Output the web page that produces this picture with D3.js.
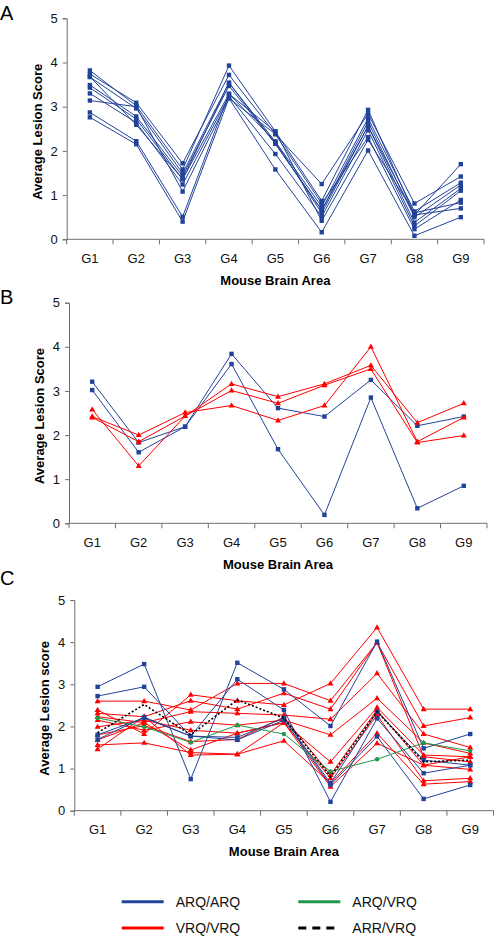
<!DOCTYPE html>
<html><head><meta charset="utf-8">
<script src="https://cdn.jsdelivr.net/npm/d3@7"></script>
<style>body{margin:0;background:#fff}svg{display:block;font-family:"Liberation Sans",Arial,sans-serif}</style>
</head><body><svg id="c" width="494" height="936"></svg>
<script>
const categories = ["G1","G2","G3","G4","G5","G6","G7","G8","G9"];
const yTicks = [0,1,2,3,4,5];

// Panel A: ARQ/ARQ
const seriesA_blue = [
  [3.82,3.02,1.58,3.93,2.44,0.87,2.93,0.55,1.70],
  [3.74,3.09,1.72,3.72,2.38,1.25,2.84,0.81,1.42],
  [3.67,2.96,1.49,3.54,2.21,0.74,2.74,0.63,1.28],
  [3.49,2.78,1.43,3.47,2.16,0.66,2.66,0.50,1.23],
  [3.43,2.72,1.36,3.29,2.21,0.59,2.56,0.38,1.15],
  [3.30,2.64,1.24,3.24,1.93,0.51,2.47,0.30,1.10],
  [3.14,3.00,1.08,3.19,2.38,0.81,2.31,0.23,0.89],
  [2.87,2.22,0.51,3.29,2.44,0.42,2.25,0.60,0.83],
  [2.76,2.15,0.40,3.19,1.58,0.16,2.01,0.08,0.50],
  [3.68,2.59,1.36,3.54,2.16,0.66,2.56,0.55,0.70]
];
// Panel B
const seriesB_blue = [
  [3.21,1.83,2.19,3.84,2.61,2.42,3.25,2.21,2.42],
  [3.02,1.61,2.19,3.61,1.68,0.19,2.85,0.34,0.85]
];
const seriesB_red = [
  [2.42,2.00,2.51,2.67,2.33,2.67,4.00,1.85,2.40],
  [2.58,1.30,2.43,3.01,2.72,3.13,3.50,1.83,1.99],
  [2.40,1.85,2.43,3.16,2.87,3.16,3.58,2.28,2.72]
];
// Panel C
const seriesC_blue = [
  [2.94,3.48,0.75,3.51,2.88,2.01,4.01,1.48,1.82],
  [2.72,2.94,1.77,3.12,2.39,0.21,2.19,0.89,1.08],
  [1.69,2.22,1.77,1.68,2.15,0.61,1.76,0.28,0.61],
  [1.80,2.20,1.77,1.74,2.20,0.65,2.35,1.20,1.08]
];
const seriesC_red = [
  [2.60,2.60,2.39,3.02,3.02,2.61,3.99,1.28,1.16],
  [2.39,1.82,2.75,2.61,2.51,3.02,4.35,2.41,2.41],
  [2.31,2.23,2.61,2.41,2.79,2.41,3.99,2.01,2.21],
  [2.23,2.09,2.35,2.31,2.27,2.17,3.26,1.82,1.50],
  [2.15,1.91,2.11,2.03,2.15,1.80,2.67,1.61,1.36],
  [1.99,2.15,1.91,1.84,2.09,1.16,2.45,1.32,1.28],
  [1.80,2.02,1.64,1.69,2.22,0.85,2.39,1.08,0.98],
  [1.68,2.09,1.44,1.84,2.09,0.77,2.27,0.71,0.77],
  [1.56,1.61,1.38,1.34,1.66,0.65,1.84,0.63,0.69],
  [1.46,2.23,1.32,1.34,2.09,0.57,1.60,1.08,1.28]
];
const seriesC_green = [[2.20,1.99,1.62,2.03,1.82,0.93,1.22,1.61,1.42]];
const seriesC_black = [[1.85,2.52,1.80,2.63,2.20,0.81,2.35,1.16,1.20]];

const legendLabels = ["ARQ/ARQ","VRQ/VRQ","ARQ/VRQ","ARR/VRQ"];

const BLUE="#22439a", RED="#ff0000", GREEN="#1f9a4c", AXIS="#6e6e6e";

const svg = d3.select("#c");

const panels = [
  {letter:"A", ly:20, x0:66.7, x1:484, y0:239.3, y5:18.3, ytitle:"Average Lesion Score",
   groups:[{data:seriesA_blue,type:"blue"}]},
  {letter:"B", ly:304, x0:69, x1:487, y0:523.3, y5:302.7, ytitle:"Average Lesion Score",
   groups:[{data:seriesB_blue,type:"blue"},{data:seriesB_red,type:"red"}]},
  {letter:"C", ly:585, x0:74.3, x1:493.5, y0:810.7, y5:600, ytitle:"Average Lesion score",
   groups:[{data:seriesC_red,type:"red"},{data:seriesC_blue,type:"blue"},{data:seriesC_green,type:"green"},{data:seriesC_black,type:"black"}]}
];

panels.forEach(p=>{
  const g = svg.append("g");
  const x = d3.scaleBand().domain(categories).range([p.x0,p.x1]);
  const y = d3.scaleLinear().domain([0,5]).range([p.y0,p.y5]);
  g.append("text").attr("x",0).attr("y",p.ly).attr("font-size",20).attr("fill","#000").text(p.letter);

  // y axis
  const ya = g.append("g").attr("transform",`translate(${p.x0},0)`)
    .call(d3.axisLeft(y).tickValues(yTicks).tickFormat(d3.format("d")).tickSize(4).tickPadding(5));
  ya.select(".domain").attr("stroke",AXIS);
  ya.selectAll(".tick line").attr("stroke",AXIS);
  ya.selectAll("text").attr("font-size",13).attr("fill","#111").attr("font-family","Liberation Sans, Arial, sans-serif");

  // x axis
  const xa = g.append("g").attr("transform",`translate(0,${p.y0})`)
    .call(d3.axisBottom(x).tickSize(0).tickPadding(14));
  xa.select(".domain").attr("stroke",AXIS).attr("d",`M${p.x0},0H${p.x1}`);
  xa.selectAll("text").attr("font-size",13).attr("fill","#111").attr("font-family","Liberation Sans, Arial, sans-serif");
  // boundary ticks
  const bounds = categories.map(c=>x(c)).concat([p.x1]);
  g.append("g").selectAll("line").data(bounds).join("line")
    .attr("x1",d=>d).attr("x2",d=>d).attr("y1",p.y0).attr("y2",p.y0+5).attr("stroke",AXIS);

  // titles
  g.append("text").attr("x",(p.x0+p.x1)/2).attr("y",p.y0+45.5).attr("text-anchor","middle")
    .attr("font-size",13).attr("font-weight","bold").text("Mouse Brain Area");
  g.append("text").attr("transform",`translate(${p.x0-25},${(p.y0+p.y5)/2+3}) rotate(-90)`)
    .attr("text-anchor","middle").attr("font-size",13).attr("font-weight","bold").text(p.ytitle);

  const line = d3.line().x((d,i)=>x(categories[i])+x.bandwidth()/2).y(d=>y(d));
  p.groups.forEach(gr=>{
    const col = gr.type==="blue"?BLUE:gr.type==="red"?RED:gr.type==="green"?GREEN:"#000";
    gr.data.forEach(s=>{
      const sg = g.append("g");
      sg.append("path").attr("d",line(s)).attr("fill","none").attr("stroke",col)
        .attr("stroke-width",gr.type==="black"?1.6:1)
        .attr("stroke-dasharray",gr.type==="black"?"2,2":null);
      const pts = s.map((v,i)=>[x(categories[i])+x.bandwidth()/2,y(v)]);
      if(gr.type==="blue"){
        sg.selectAll("rect").data(pts).join("rect").attr("x",d=>d[0]-2.2).attr("y",d=>d[1]-2.2)
          .attr("width",4.4).attr("height",4.4).attr("fill",BLUE);
      } else if(gr.type==="red"){
        sg.selectAll("path.m").data(pts).join("path").attr("class","m")
          .attr("d",d=>`M${d[0]},${d[1]-3.2}L${d[0]+3},${d[1]+2}L${d[0]-3},${d[1]+2}Z`).attr("fill",RED);
      } else if(gr.type==="green"){
        sg.selectAll("circle").data(pts).join("circle").attr("cx",d=>d[0]).attr("cy",d=>d[1]).attr("r",2.2).attr("fill",GREEN);
      }
    });
  });
});

// legend
const leg = svg.append("g");
const legItems = [
  {label:legendLabels[0], col:BLUE, dash:null, lx:121.7, ly:901.7},
  {label:legendLabels[1], col:RED, dash:null, lx:121.7, ly:928},
  {label:legendLabels[2], col:GREEN, dash:null, lx:298.3, ly:901.7},
  {label:legendLabels[3], col:"#000", dash:"8,6", lx:298.3, ly:928}
];
legItems.forEach(it=>{
  leg.append("line").attr("x1",it.lx).attr("x2",it.lx+42).attr("y1",it.ly).attr("y2",it.ly)
    .attr("stroke",it.col).attr("stroke-width",3).attr("stroke-dasharray",it.dash);
  leg.append("text").attr("x",it.lx+54).attr("y",it.ly+5).attr("font-size",14).attr("fill","#111").text(it.label);
});
</script></body></html>
